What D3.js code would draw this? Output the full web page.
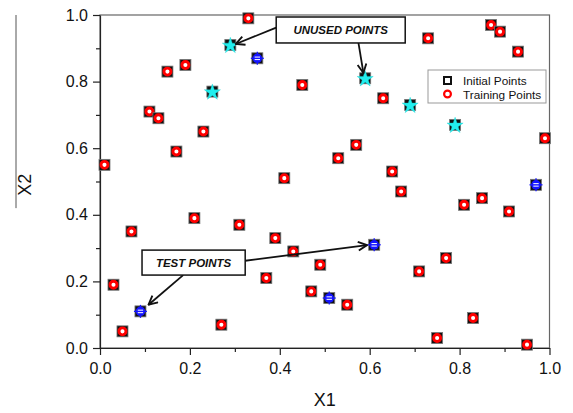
<!DOCTYPE html>
<html>
<head>
<meta charset="utf-8">
<script src="https://cdn.jsdelivr.net/npm/d3@7"></script>
<style>
    body { margin: 0; background: #fff; }
    svg text { font-family: "Liberation Sans", Arial, sans-serif; fill: #111; }
</style>
</head>
<body>
<svg id="chart" width="573" height="413"></svg>
<script>
// training points (red ring on black square)
const trainX = [0.01, 0.03, 0.05, 0.07, 0.11, 0.13, 0.15, 0.17, 0.19, 0.21, 0.23, 0.27, 0.31, 0.33, 0.37, 0.39, 0.41, 0.43, 0.45, 0.47,
                0.49, 0.53, 0.55, 0.57, 0.63, 0.65, 0.67, 0.71, 0.73, 0.75, 0.77, 0.81, 0.83, 0.85, 0.87, 0.89, 0.91, 0.93, 0.95, 0.99];
const trainY = [0.55, 0.19, 0.05, 0.35, 0.71, 0.69, 0.83, 0.59, 0.85, 0.39, 0.65, 0.07, 0.37, 0.99, 0.21, 0.33, 0.51, 0.29, 0.79, 0.17,
                0.25, 0.57, 0.13, 0.61, 0.75, 0.53, 0.47, 0.23, 0.93, 0.03, 0.27, 0.43, 0.09, 0.45, 0.97, 0.95, 0.41, 0.89, 0.01, 0.63];
// test points (blue)
const testX = [0.09, 0.35, 0.51, 0.61, 0.97];
const testY = [0.11, 0.87, 0.15, 0.31, 0.49];
// unused points (cyan star)
const unusedX = [0.25, 0.29, 0.59, 0.69, 0.79];
const unusedY = [0.77, 0.91, 0.81, 0.73, 0.67];

const xTicks = [0, 0.2, 0.4, 0.6, 0.8, 1.0];
const yTicks = [0, 0.2, 0.4, 0.6, 0.8, 1.0];
const minorTicks = [0.1, 0.3, 0.5, 0.7, 0.9];
const legendLabels = ["Initial Points", "Training Points"];

const svg = d3.select("#chart");
const m = { left: 100, right: 24, top: 15, bottom: 65 };
const W = 573, H = 413;

const x = d3.scaleLinear().domain([0, 1]).range([m.left, W - m.right + 0.5]);
const y = d3.scaleLinear().domain([0, 1]).range([H - m.bottom, m.top]);

// frame (top / right are lighter)
svg.append("rect")
    .attr("x", x(0)).attr("y", y(1))
    .attr("width", x(1) - x(0)).attr("height", y(0) - y(1))
    .attr("fill", "none").attr("stroke", "#666").attr("stroke-width", 1.2);

// axes, major + minor
function styleAxis(g) {
    g.selectAll("path, line").attr("stroke", "#222").attr("stroke-width", 1.2);
    g.selectAll("text").style("font-size", "16px").attr("fill", "#111");
}
svg.append("g").attr("transform", `translate(0,${y(0)})`)
    .call(d3.axisBottom(x).tickValues(xTicks).tickFormat(d3.format(".1f")).tickSize(7).tickSizeOuter(0).tickPadding(8))
    .call(styleAxis);
svg.append("g").attr("transform", `translate(0,${y(0)})`)
    .call(d3.axisBottom(x).tickValues(minorTicks).tickFormat("").tickSize(4))
    .call(g => g.select(".domain").remove())
    .call(styleAxis);
svg.append("g").attr("transform", `translate(${x(0)},0)`)
    .call(d3.axisLeft(y).tickValues(yTicks).tickFormat(d3.format(".1f")).tickSize(7).tickSizeOuter(0).tickPadding(5))
    .call(styleAxis);
svg.append("g").attr("transform", `translate(${x(0)},0)`)
    .call(d3.axisLeft(y).tickValues(minorTicks).tickFormat("").tickSize(4))
    .call(g => g.select(".domain").remove())
    .call(styleAxis);

// axis titles
svg.append("text").attr("x", (x(0) + x(1)) / 2).attr("y", 406)
    .attr("text-anchor", "middle").style("font-size", "18px").text("X1");
svg.append("text").attr("transform", `translate(31,${y(0.49)}) rotate(-90)`)
    .attr("text-anchor", "middle").style("font-size", "18px").text("X2");
// stray line left of the X2 title
svg.append("line").attr("x1", 16).attr("x2", 16).attr("y1", y(1)).attr("y2", y(0.42))
    .attr("stroke", "#555").attr("stroke-width", 1);

// points
const sq = 11;
function baseSquare(g) {
    g.append("rect").attr("x", -sq / 2).attr("y", -sq / 2).attr("width", sq).attr("height", sq)
        .attr("fill", "#111").attr("stroke", "#777").attr("stroke-width", 0.8);
}

const train = trainX.map((d, i) => ({ x: d, y: trainY[i] }));
const test = testX.map((d, i) => ({ x: d, y: testY[i] }));
const unused = unusedX.map((d, i) => ({ x: d, y: unusedY[i] }));

const tg = svg.append("g").selectAll("g").data(train).join("g")
    .attr("transform", d => `translate(${x(d.x)},${y(d.y)})`);
tg.each(function() { baseSquare(d3.select(this)); });
tg.append("circle").attr("r", 3.5).attr("fill", "#fff").attr("stroke", "#f00").attr("stroke-width", 2.9);

const ug = svg.append("g").selectAll("g").data(unused).join("g")
    .attr("transform", d => `translate(${x(d.x)},${y(d.y)})`);
ug.each(function() { baseSquare(d3.select(this)); });
ug.append("path").attr("d", d3.symbol(d3.symbolStar, 80)).attr("transform", "translate(0,0.8)")
    .attr("fill", "#22eeee").attr("stroke", "#11cccc").attr("stroke-width", 0.4);

const bg = svg.append("g").selectAll("g").data(test).join("g")
    .attr("transform", d => `translate(${x(d.x)},${y(d.y)})`);
bg.each(function() { baseSquare(d3.select(this)); });
bg.append("line").attr("x1", -6.5).attr("x2", 6.5).attr("stroke", "#1515ff").attr("stroke-width", 1.3);
bg.append("line").attr("y1", -6.5).attr("y2", 6.5).attr("stroke", "#1515ff").attr("stroke-width", 1.3);
bg.append("circle").attr("r", 4.8).attr("fill", "#1515ff");
bg.append("line").attr("x1", -2.7).attr("x2", 2.7).attr("y1", -1.2).attr("y2", -1.2).attr("stroke", "#fff").attr("stroke-width", 1);
bg.append("line").attr("x1", -2.7).attr("x2", 2.7).attr("y1", 1.3).attr("y2", 1.3).attr("stroke", "#fff").attr("stroke-width", 1);

// legend
const lg = svg.append("g");
lg.append("rect").attr("x", 428).attr("y", 70).attr("width", 118).attr("height", 33)
    .attr("fill", "#fff").attr("stroke", "#999").attr("stroke-width", 1);
lg.append("rect").attr("x", 444).attr("y", 77).attr("width", 7).attr("height", 7)
    .attr("fill", "none").attr("stroke", "#111").attr("stroke-width", 2);
lg.append("circle").attr("cx", 447.5).attr("cy", 94).attr("r", 3.4)
    .attr("fill", "none").attr("stroke", "#f00").attr("stroke-width", 2.2);
lg.selectAll("text.lbl").data(legendLabels).join("text").attr("class", "lbl")
    .attr("x", 463).attr("y", (d, i) => 85 + i * 13.5)
    .style("font-size", "11.8px").text(d => d);

// annotations (data units)
const boxes = [
    { label: "UNUSED POINTS", x0: 0.392, x1: 0.679, y0: 0.916, y1: 0.994 },
    { label: "TEST POINTS", x0: 0.0935, x1: 0.323, y0: 0.219, y1: 0.294 }
];
const arrows = [
    { x1: 0.392, y1: 0.962, x2: 0.302, y2: 0.913 },
    { x1: 0.575, y1: 0.916, x2: 0.586, y2: 0.826 },
    { x1: 0.185, y1: 0.219, x2: 0.108, y2: 0.130 },
    { x1: 0.323, y1: 0.262, x2: 0.594, y2: 0.309 }
];

svg.append("defs").append("marker").attr("id", "head")
    .attr("viewBox", "0 0 10 10").attr("refX", 9).attr("refY", 5)
    .attr("markerWidth", 11).attr("markerHeight", 11).attr("markerUnits", "userSpaceOnUse")
    .attr("orient", "auto")
    .append("path").attr("d", "M1,1 L9,5 L1,9").attr("fill", "none").attr("stroke", "#111").attr("stroke-width", 1.7);

svg.append("g").selectAll("line").data(arrows).join("line")
    .attr("x1", d => x(d.x1)).attr("y1", d => y(d.y1))
    .attr("x2", d => x(d.x2)).attr("y2", d => y(d.y2))
    .attr("stroke", "#111").attr("stroke-width", 1.8).attr("marker-end", "url(#head)");

const bx = svg.append("g").selectAll("g").data(boxes).join("g");
bx.append("rect")
    .attr("x", d => x(d.x0)).attr("y", d => y(d.y1))
    .attr("width", d => x(d.x1) - x(d.x0)).attr("height", d => y(d.y0) - y(d.y1))
    .attr("fill", "#fff").attr("stroke", "#111").attr("stroke-width", 1.5);
bx.append("text")
    .attr("x", d => (x(d.x0) + x(d.x1)) / 2).attr("y", d => (y(d.y0) + y(d.y1)) / 2 + 4)
    .attr("text-anchor", "middle")
    .style("font-size", "11.5px").style("font-weight", "bold").style("font-style", "italic")
    .text(d => d.label);
</script>
</body>
</html>
